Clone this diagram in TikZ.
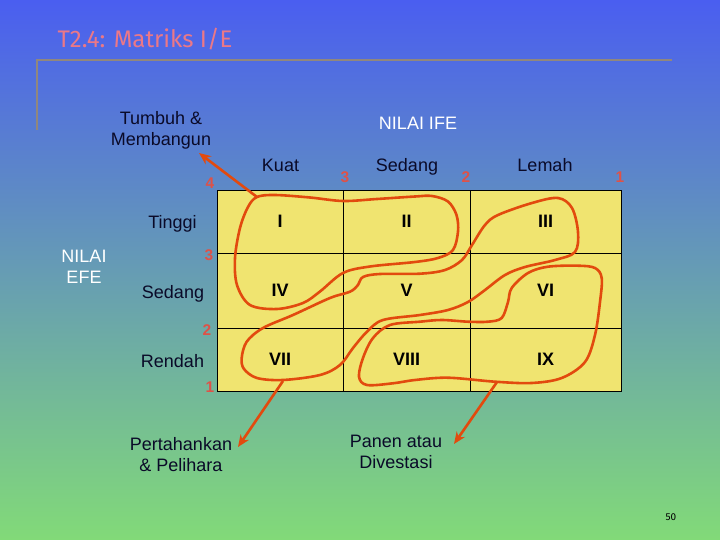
\documentclass[tikz,border=0pt]{standalone}
\usepackage{fontspec}
\setmainfont{Liberation Sans}
\newfontfamily\titlefont{Fira Sans}
\usetikzlibrary{arrows.meta}

\definecolor{bgtop}{RGB}{74,94,240}
\definecolor{bgmid}{RGB}{98,150,205}
\definecolor{bgbot}{RGB}{130,218,120}
\definecolor{titlered}{RGB}{235,120,135}
\definecolor{rulegray}{RGB}{145,135,125}
\definecolor{cellyellow}{RGB}{240,228,112}
\definecolor{looporange}{RGB}{226,74,14}
\definecolor{numred}{RGB}{222,82,72}
\definecolor{textnavy}{RGB}{10,10,40}

\begin{document}
\begin{tikzpicture}[
  x=1pt,y=-1pt,
  cell/.style={rectangle,draw=black,line width=0.8pt,fill=cellyellow,inner sep=0pt,font=\fontsize{18}{21}\selectfont\bfseries},
  axislbl/.style={font=\fontsize{18}{21}\selectfont,text=textnavy,anchor=base},
  headlbl/.style={font=\fontsize{18}{21}\selectfont,text=white,align=center},
  num/.style={font=\fontsize{15.5}{18}\selectfont\bfseries,text=numred,anchor=base},
  action/.style={font=\fontsize{18}{21}\selectfont,text=textnavy,align=center},
  loopline/.style={looporange,line width=2.6pt,line join=round},
  maps/.style={-{Stealth[length=12pt,width=10pt]},looporange,line width=2.6pt},
]

% ==== BACKGROUND + TITLE ====
\shade[top color=bgtop,middle color=bgmid,bottom color=bgbot] (0,0) rectangle (720,540);
\useasboundingbox (0,0) rectangle (720,540);
\node[font=\titlefont\fontsize{24}{28}\selectfont,text=titlered,anchor=base west] (title) at (54,48) {T2.4: Matriks I/E};
\draw[rulegray,line width=2pt] (37,130) -- (37,60) -- (672,60);

% ==== HEADINGS ====
\node[headlbl] (ifehead) at (418,123.5) {NILAI IFE};
\node[headlbl] (efehead) at (84,266.7) {NILAI\\EFE};

\node[axislbl] (kuat) at (280.5,172) {Kuat};
\node[axislbl] (sedangcol) at (407,172) {Sedang};
\node[axislbl] (lemah) at (545,172) {Lemah};

\node[axislbl] (tinggi) at (172.5,229) {Tinggi};
\node[axislbl] (sedangrow) at (173,298) {Sedang};
\node[axislbl] (rendah) at (172.5,367) {Rendah};

% scale values
\node[num] (n4) at (210,189) {4};
\node[num] (c3) at (345,183) {3};
\node[num] (c2) at (466,183) {2};
\node[num] (c1) at (620,183) {1};
\node[num] (r3) at (209,260) {3};
\node[num] (r2) at (207,335) {2};
\node[num] (r1) at (210,392) {1};

% ==== MATRIX CELLS ====
\node[cell,minimum width=126,minimum height=63] (I) at (280,221.5) {I};
\node[cell,minimum width=127,minimum height=63] (II) at (406.5,221.5) {II};
\node[cell,minimum width=151,minimum height=63] (III) at (545.5,221.5) {III};
\node[cell,minimum width=126,minimum height=75] (IV) at (280,290.5) {IV};
\node[cell,minimum width=127,minimum height=75] (V) at (406.5,290.5) {V};
\node[cell,minimum width=151,minimum height=75] (VI) at (545.5,290.5) {VI};
\node[cell,minimum width=126,minimum height=63] (VII) at (280,359.5) {VII};
\node[cell,minimum width=127,minimum height=63] (VIII) at (406.5,359.5) {VIII};
\node[cell,minimum width=151,minimum height=63] (IX) at (545.5,359.5) {IX};

% ==== GROUPS (hand-drawn loops) ====
% I, II, IV
\draw[loopline] plot[smooth cycle,tension=0.55] coordinates {
  (257,197) (275,195) (310,197.5) (343,201) (377,199) (415,196.5) (432,196)
  (448,201.5) (456.5,215) (458,231.5) (453,250) (438,258) (415,262) (370,266.5)
  (343,273) (320,291.5) (303,303) (277,309) (250,305) (237,285) (235,258)
  (240,228) (248,207)};
% III, V, VII
\draw[loopline] plot[smooth cycle,tension=0.55] coordinates {
  (241.7,358) (246.7,341.7) (263,328) (293,315) (330,298) (350,291.7) (358,285)
  (363,277) (380,274) (420,273.7) (445,270) (462,260) (472,245) (485,225)
  (498,215) (532,203) (558,198) (572,208) (578,232) (575,252) (555,260)
  (525,267) (505,275) (485,290) (468,302) (448,310) (420,315) (383,320)
  (367,331.7) (353,348) (340,365) (320,375) (283,380) (257,378) (244,369)};
% VI, IX, VIII
\draw[loopline] plot[smooth cycle,tension=0.55] coordinates {
  (359,376.7) (363,358) (373,338) (390,325) (420,321.7) (441.7,320) (468,321.7)
  (488,321.7) (501.7,318) (508,302) (511.7,288) (528,273) (548,266.7)
  (578,265.7) (595,268) (601.7,278) (600,302) (595,335) (585,362) (561.7,378)
  (531.7,383) (495,381.7) (448,377.7) (415,380) (393,383.3) (367,385)};

% ==== STRATEGIES ====
\node[action] (tumbuh) at (161,130) {Tumbuh \&\\Membangun};
\node[action] (pertahankan) at (181,455) {Pertahankan\\\& Pelihara};
\node[action] (panen) at (396,452) {Panen atau\\Divestasi};

\coordinate (growout) at (257,197);
\coordinate (growtip) at (199,153);
\coordinate (holdout) at (283,381);
\coordinate (holdtip) at (238,447);
\coordinate (harvout) at (497,382);
\coordinate (harvtip) at (454,444);

\draw[maps] (growout) -- (growtip);
\draw[maps] (holdout) -- (holdtip);
\draw[maps] (harvout) -- (harvtip);

\node[font=\titlefont\fontsize{10}{12}\selectfont] (pageno) at (671,517) {50};

\end{tikzpicture}
\end{document}
